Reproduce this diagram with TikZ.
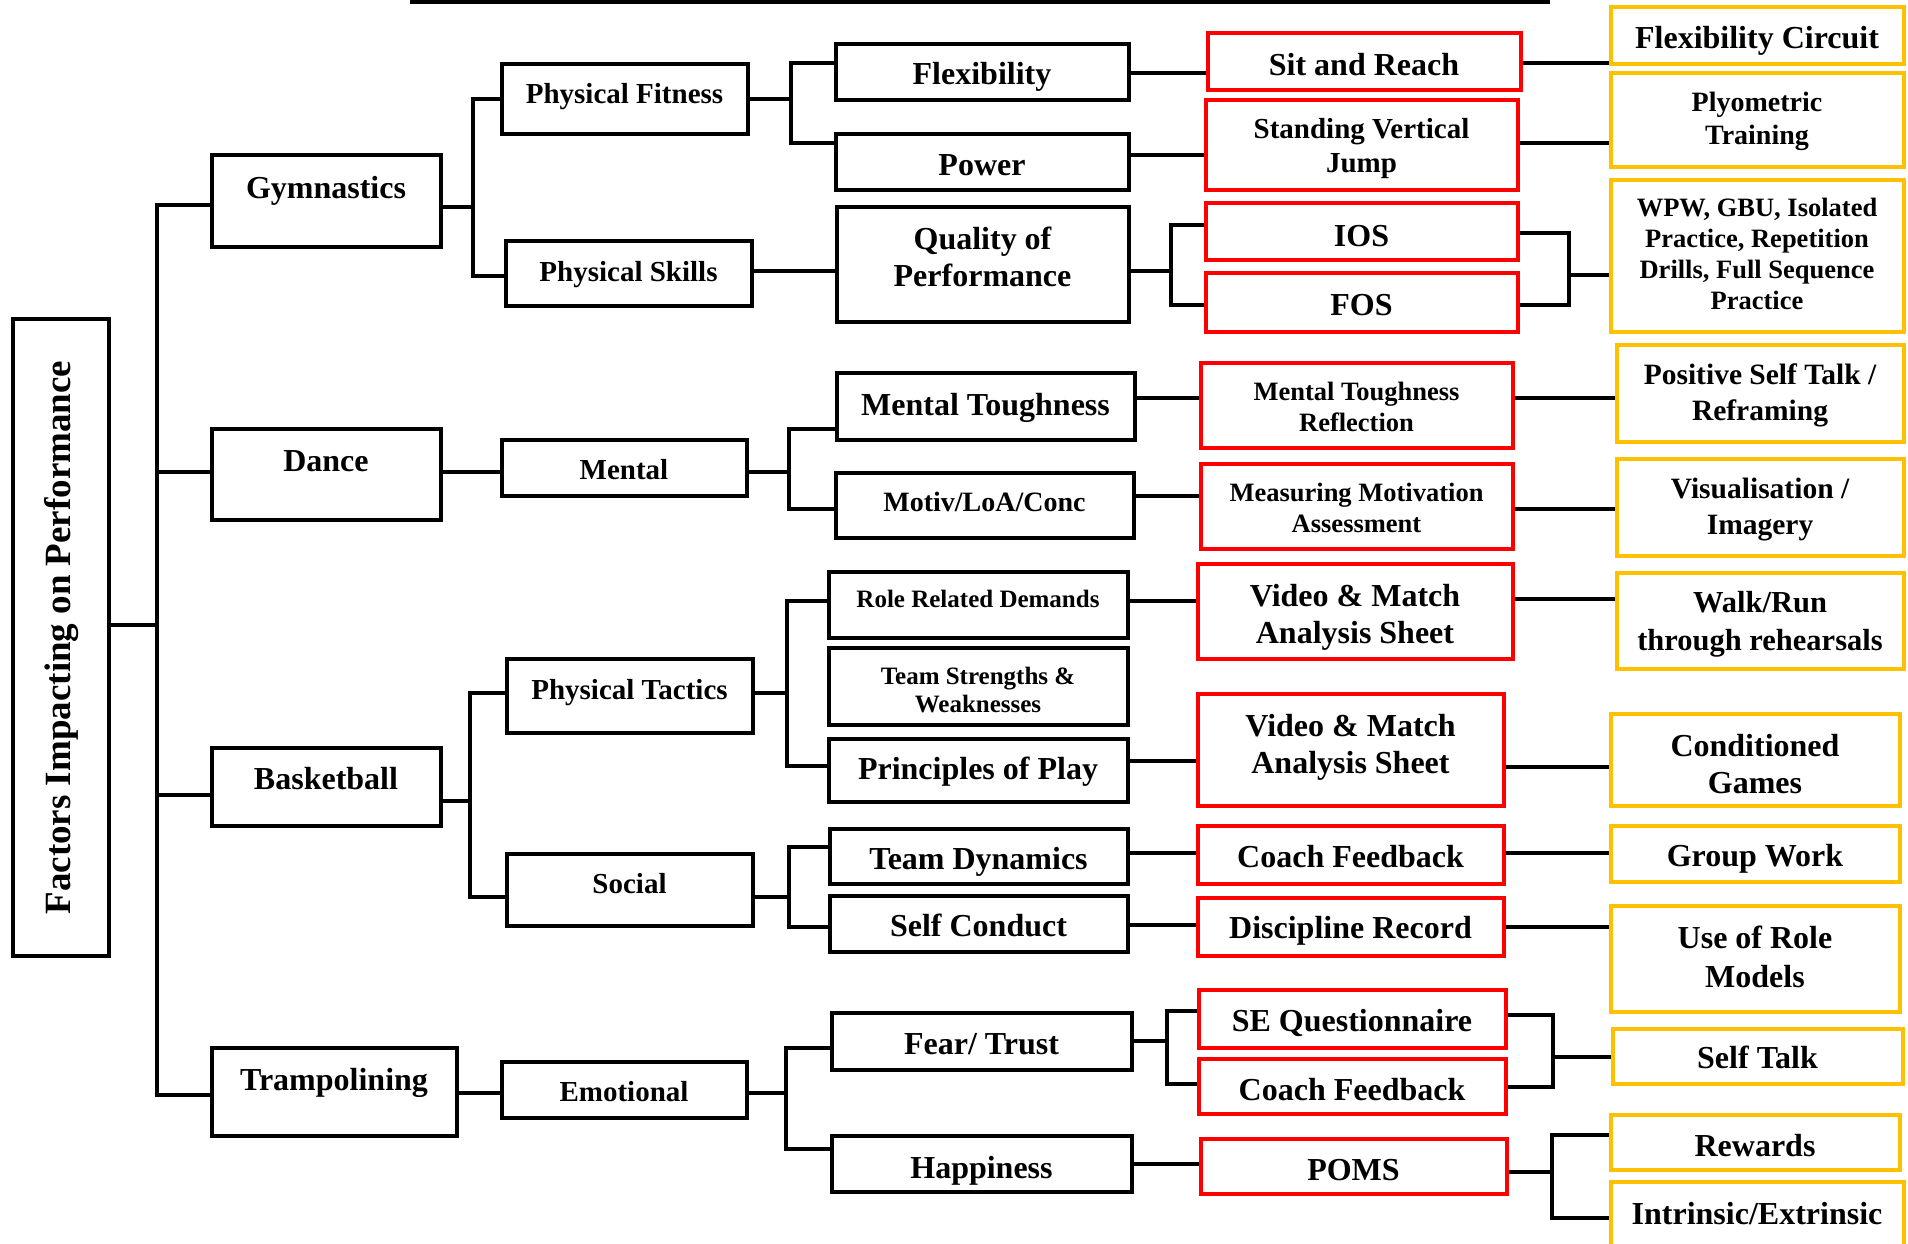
\documentclass[tikz,border=0pt]{standalone}
\usepackage{fontspec}
\setmainfont{Liberation Serif}
\usetikzlibrary{calc}
\definecolor{rboxc}{HTML}{FF0000}
\definecolor{oboxc}{HTML}{FFC000}
\newcommand\fLg{\fontsize{32}{37}\selectfont}
\newcommand\fMd{\fontsize{29}{34}\selectfont}
\newcommand\fMs{\fontsize{28}{33}\selectfont}
\newcommand\fSm{\fontsize{26.5}{31}\selectfont}
\newcommand\fXs{\fontsize{25}{28}\selectfont}
\newcommand\fTi{\fontsize{37}{42}\selectfont}
\tikzset{
  box/.style={draw, line width=4pt, inner sep=0pt, align=center, font=\bfseries\fLg},
  kb/.style={box, draw=black},
  rb/.style={box, draw=rboxc},
  ob/.style={box, draw=oboxc},
  sz/.style 2 args={minimum width=#1, minimum height=#2},
  bl/.style={text height=#1, text depth=0pt},
  lbl/.style={font=\bfseries\fLg, anchor=base, inner sep=0pt},
  tx/.style={font=\bfseries\fLg, align=center, inner sep=0pt},
  con/.style={line width=4pt, line join=miter, draw=black},
}
\begin{document}
\begin{tikzpicture}[x=1pt,y=-1pt]
\useasboundingbox (0,0) rectangle (1908,1243);
\begin{scope}
\clip (0,0) rectangle (1908,1243);
% top rule
\draw[line width=4.5pt] (410,1.5) -- (1550,1.5);

% root
\node[kb, sz={96}{637}] (title) at (60.5,637) {};
\node[font=\bfseries\fTi, rotate=90, anchor=base, inner sep=0pt] (titletext) at (70,637.5) {Factors Impacting on Performance};

% level 1
\node[kb, sz={229}{92}] (gym) at (326,200.5) {};
\node[lbl] (gymt) at (326,198) {Gymnastics};
\node[kb, sz={229}{91}] (dance) at (326,474) {};
\node[lbl] (dancet) at (326,471) {Dance};
\node[kb, sz={229}{78}] (bball) at (326,786.5) {};
\node[lbl] (bballt) at (326,789) {Basketball};
\node[kb, sz={245}{88}] (tramp) at (334,1091.5) {};
\node[lbl] (trampt) at (334,1090) {Trampolining};

% level 2
\node[kb, sz={246}{70}, bl=9pt, font=\bfseries\fMd] (pf) at (624.5,98.5) {Physical Fitness};
\node[kb, sz={246}{65}, bl=17pt, font=\bfseries\fMd] (ps) at (628.5,273) {Physical Skills};
\node[kb, sz={245}{56}, bl=23pt, font=\bfseries\fMd] (mental) at (624,467.5) {Mental};
\node[kb, sz={246}{74}, bl=7pt, font=\bfseries\fMd] (pt) at (629.5,695.5) {Physical Tactics};
\node[kb, sz={246}{72}, bl=8pt, font=\bfseries\fMd] (social) at (629.5,889.5) {Social};
\node[kb, sz={245}{56}, bl=23pt, font=\bfseries\fMd] (emo) at (624,1089.5) {Emotional};

% level 3
\node[kb, sz={293}{56}, bl=25pt] (flex) at (982,71.5) {Flexibility};
\node[kb, sz={293}{56}, bl=27pt] (power) at (982,161.5) {Power};
\node[kb, sz={292}{115}] (qop) at (982.5,264) {};
\node[tx] (qopt) at (982.5,257) {Quality of\\Performance};
\node[kb, sz={298}{67}, bl=19pt] (mt) at (985.5,406) {Mental Toughness};
\node[kb, sz={298}{65}, bl=12pt, font=\bfseries\fMs] (motiv) at (984.5,505) {Motiv/LoA/Conc};
\node[kb, sz={299}{66}, bl=6pt, font=\bfseries\fXs] (rrd) at (978,604.5) {Role Related Demands};
\node[kb, sz={299}{77}] (tsw) at (978,686) {};
\node[tx, font=\bfseries\fXs] (tswt) at (978,690) {Team Strengths \&\\Weaknesses};
\node[kb, sz={299}{63}, bl=19pt] (pop) at (978,770) {Principles of Play};
\node[kb, sz={298}{55}, bl=27pt] (td) at (978.5,856) {Team Dynamics};
\node[kb, sz={298}{56}, bl=26pt] (sc) at (978.5,923.5) {Self Conduct};
\node[kb, sz={300}{57}, bl=26pt] (ft) at (981.5,1041) {Fear/ Trust};
\node[kb, sz={300}{56}, bl=29pt] (happ) at (981.5,1163.5) {Happiness};

% level 4 (red)
\node[rb, sz={313}{57}, bl=29pt] (sr) at (1364,61) {Sit and Reach};
\node[rb, sz={312}{90}] (svj) at (1361.5,144.5) {};
\node[tx, font=\bfseries\fMd] (svjt) at (1361.5,148.5) {Standing Vertical\\Jump};
\node[rb, sz={312}{57}, bl=30pt] (ios) at (1361.5,231) {IOS};
\node[rb, sz={312}{59}, bl=26pt] (fos) at (1361.5,302) {FOS};
\node[rb, sz={312}{85}, font=\bfseries\fSm] (mtr) at (1356.5,405) {};
\node[tx, font=\bfseries\fSm] (mtrt) at (1356.5,407) {Mental Toughness\\Reflection};
\node[rb, sz={312}{85}] (mma) at (1356.5,506) {};
\node[tx, font=\bfseries\fSm] (mmat) at (1356.5,508) {Measuring Motivation\\Assessment};
\node[rb, sz={315}{95}] (vma1) at (1355,611) {};
\node[tx] (vma1t) at (1355,617) {Video \& Match\\Analysis Sheet};
\node[rb, sz={306}{112}] (vma2) at (1350.5,749.5) {};
\node[tx] (vma2t) at (1350.5,747.5) {Video \& Match\\Analysis Sheet};
\node[rb, sz={306}{58}, bl=25pt] (cf1) at (1350.5,854.5) {Coach Feedback};
\node[rb, sz={306}{58}, bl=24pt] (dr) at (1350.5,926.5) {Discipline Record};
\node[rb, sz={307}{58}, bl=25pt] (seq) at (1352,1018.5) {SE Questionnaire};
\node[rb, sz={307}{55}, bl=28pt] (cf2) at (1352,1086) {Coach Feedback};
\node[rb, sz={306}{55}, bl=28pt] (poms) at (1353.5,1166) {POMS};

% level 5 (orange)
\node[ob, sz={293}{57}, bl=27pt] (fc) at (1757,35) {Flexibility Circuit};
\node[ob, sz={293}{94}] (plyo) at (1757,119.5) {};
\node[tx, font=\bfseries\fMs] (plyot) at (1757,121.5) {Plyometric\\Training};
\node[ob, sz={293}{152}] (wpw) at (1757,255.5) {};
\node[tx, font=\bfseries\fSm] (wpwt) at (1757,253.5) {WPW, GBU, Isolated\\Practice, Repetition\\Drills, Full Sequence\\Practice};
\node[ob, sz={287}{97}] (pst) at (1760,393) {};
\node[tx, font=\bfseries\fontsize{29.5}{36}\selectfont] (pstt) at (1760,395) {Positive Self Talk /\\Reframing};
\node[ob, sz={287}{97}] (vis) at (1760,507) {};
\node[tx, font=\bfseries\fontsize{29.5}{36}\selectfont] (vist) at (1760,510) {Visualisation /\\Imagery};
\node[ob, sz={287}{96}] (wr) at (1760,620.5) {};
\node[tx, font=\bfseries\fontsize{30.5}{38}\selectfont] (wrt) at (1760,624.5) {Walk/Run\\through rehearsals};
\node[ob, sz={289}{92}] (cg) at (1755,759.5) {};
\node[tx] (cgt) at (1755,764.5) {Conditioned\\Games};
\node[ob, sz={289}{56}, bl=25pt] (gw) at (1755,853.5) {Group Work};
\node[ob, sz={289}{106}] (urm) at (1755,958.5) {};
\node[tx, font=\bfseries\fontsize{32}{39}\selectfont] (urmt) at (1755,956.5) {Use of Role\\Models};
\node[ob, sz={290}{55}, bl=24pt] (st) at (1757.5,1056) {Self Talk};
\node[ob, sz={289}{55}, bl=28pt] (rew) at (1755,1142) {Rewards};
\node[ob, sz={293}{80}] (ie) at (1757,1222) {};
\node[lbl] (iet) at (1757,1224) {Intrinsic/Extrinsic};

% fork points
\coordinate (k0) at (157,625);
\coordinate (j1) at (473,207);
\coordinate (j2) at (791,99);
\coordinate (j3) at (1171,271);
\coordinate (j4) at (1569,275);
\coordinate (j5) at (789,472);
\coordinate (j6) at (470,801);
\coordinate (j7) at (787,693);
\coordinate (j8) at (789,897);
\coordinate (j9) at (786,1093);
\coordinate (j10) at (1167,1041);
\coordinate (j11) at (1553,1057);
\coordinate (j12) at (1552,1172);

% root connectors
\draw[con] (title.east |- k0) -- (k0);
\draw[con] ([yshift=-4.5pt]gym.west) -| (k0) |- ([yshift=-3.5pt]tramp.west);
\draw[con] ([yshift=2pt]dance.west) -- ([yshift=2pt]dance.west -| k0);
\draw[con] ([yshift=-8.5pt]bball.west) -- ([yshift=-8.5pt]bball.west -| k0);

% gymnastics
\draw[con] (gym.east |- j1) -- (j1);
\draw[con] (pf.west) -| (j1) |- ([yshift=-3pt]ps.west);
\draw[con] (pf.east) -- (pf.east -| j2);
\draw[con] ([yshift=8.5pt]flex.west) -| (j2) |- ([yshift=18.5pt]power.west);
\draw[con] ([yshift=-1.5pt]flex.east) -- ([yshift=-1.5pt]flex.east -| sr.west);
\draw[con] ([yshift=6.5pt]power.east) -- ([yshift=6.5pt]power.east -| svj.west);
\draw[con] ([yshift=-2pt]sr.east) -- ([yshift=-2pt]sr.east -| fc.west);
\draw[con] ([yshift=1.5pt]svj.east) -- ([yshift=1.5pt]svj.east -| plyo.west);
\draw[con] ([yshift=2pt]ps.east) -- ([yshift=2pt]ps.east -| qop.west);
\draw[con] (qop.east |- j3) -- (j3);
\draw[con] ([yshift=6pt]ios.west) -| (j3) |- ([yshift=-3pt]fos.west);
\draw[con] ([yshift=-2pt]ios.east) -| (j4) |- ([yshift=-3pt]fos.east);
\draw[con] (j4) -- (j4 -| wpw.west);

% dance
\draw[con] ([yshift=2pt]dance.east) -- ([yshift=2pt]dance.east -| mental.west);
\draw[con] (mental.east |- j5) -- (j5);
\draw[con] ([yshift=-23pt]mt.west) -| (j5) |- ([yshift=-4pt]motiv.west);
\draw[con] ([yshift=8pt]mt.east) -- ([yshift=8pt]mt.east -| mtr.west);
\draw[con] ([yshift=9pt]motiv.east) -- ([yshift=9pt]motiv.east -| mma.west);
\draw[con] ([yshift=7pt]mtr.east) -- ([yshift=7pt]mtr.east -| pst.west);
\draw[con] ([yshift=-3pt]mma.east) -- ([yshift=-3pt]mma.east -| vis.west);

% basketball
\draw[con] (bball.east |- j6) -- (j6);
\draw[con] ([yshift=2.5pt]pt.west) -| (j6) |- ([yshift=-7.5pt]social.west);
\draw[con] (pt.east |- j7) -- (j7);
\draw[con] ([yshift=3.5pt]rrd.west) -| (j7) |- ([yshift=4pt]pop.west);
\draw[con] ([yshift=3.5pt]rrd.east) -- ([yshift=3.5pt]rrd.east -| vma1.west);
\draw[con] ([yshift=9pt]pop.east) -- ([yshift=9pt]pop.east -| vma2.west);
\draw[con] ([yshift=12pt]vma1.east) -- ([yshift=12pt]vma1.east -| wr.west);
\draw[con] ([yshift=-17.5pt]vma2.east) -- ([yshift=-17.5pt]vma2.east -| cg.west);
\draw[con] (social.east |- j8) -- (j8);
\draw[con] ([yshift=9pt]td.west) -| (j8) |- ([yshift=-3.5pt]sc.west);
\draw[con] ([yshift=3pt]td.east) -- ([yshift=3pt]td.east -| cf1.west);
\draw[con] ([yshift=-1.5pt]sc.east) -- ([yshift=-1.5pt]sc.east -| dr.west);
\draw[con] ([yshift=1.5pt]cf1.east) -- ([yshift=1.5pt]cf1.east -| gw.west);
\draw[con] ([yshift=-0.5pt]dr.east) -- ([yshift=-0.5pt]dr.east -| urm.west);

% trampolining
\draw[con] ([yshift=-1.5pt]tramp.east) -- ([yshift=-1.5pt]tramp.east -| emo.west);
\draw[con] (emo.east |- j9) -- (j9);
\draw[con] ([yshift=-7pt]ft.west) -| (j9) |- ([yshift=14.5pt]happ.west);
\draw[con] (ft.east |- j10) -- (j10);
\draw[con] ([yshift=7.5pt]seq.west) -| (j10) |- ([yshift=2pt]cf2.west);
\draw[con] ([yshift=3.5pt]seq.east) -| (j11) |- ([yshift=-1pt]cf2.east);
\draw[con] (j11) -- (j11 -| st.west);
\draw[con] (happ.east) -- (happ.east -| poms.west);
\draw[con] (poms.east |- j12) -- (j12);
\draw[con] ([yshift=7pt]rew.west) -| (j12) |- ([yshift=4pt]ie.west);
\end{scope}
\end{tikzpicture}
\end{document}
